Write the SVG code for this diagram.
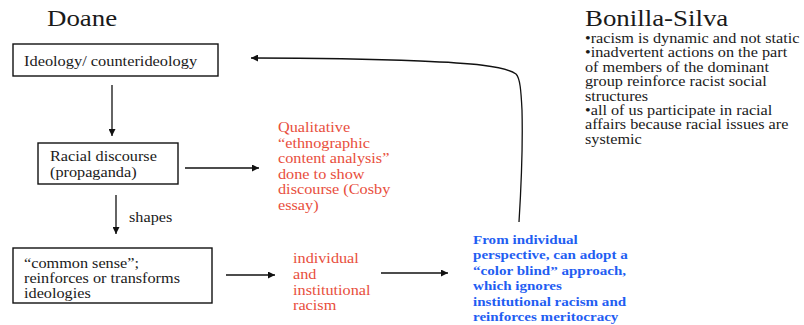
<svg xmlns="http://www.w3.org/2000/svg" width="804" height="325" viewBox="0 0 804 325">
<defs>
<marker id="ah" viewBox="0 0 10 10" refX="10" refY="5" markerWidth="7" markerHeight="7" markerUnits="userSpaceOnUse" orient="auto"><path d="M0,0 L10,5 L0,10 z" fill="#111"/></marker>
<style>
text{font-family:"Liberation Serif","Times New Roman",serif;}
.t{font-size:24px;fill:#1a1a1a;}
.b{font-size:14px;fill:#1a1a1a;}
.r{font-size:14px;fill:#e84e3c;}
.bl{font-size:13px;fill:#1f5ef2;font-weight:bold;}
.box{fill:#fff;stroke:#111;stroke-width:1.4;}
.c{fill:none;stroke:#111;stroke-width:1.3;marker-end:url(#ah);}
</style>
</defs>
<rect width="804" height="325" fill="#fff"/>
<g id="title-doane"><text class="t" transform="translate(47,26) scale(1.12,1)">Doane</text></g>
<g id="bonilla-silva">
<text class="t" transform="translate(585,26) scale(1.12,1)">Bonilla-Silva</text>
<text class="b" transform="translate(585,0) scale(1.16,1)">
<tspan x="0" y="43">•racism is dynamic and not static</tspan>
<tspan x="0" y="57.4">•inadvertent actions on the part</tspan>
<tspan x="0" y="71.8">of members of the dominant</tspan>
<tspan x="0" y="86.2">group reinforce racist social</tspan>
<tspan x="0" y="100.6">structures</tspan>
<tspan x="0" y="115">•all of us participate in racial</tspan>
<tspan x="0" y="129.4">affairs because racial issues are</tspan>
<tspan x="0" y="143.8">systemic</tspan>
</text>
</g>
<g id="ideology">
<rect class="box" x="13" y="44" width="205" height="32"/>
<text class="b" transform="translate(24,66) scale(1.17,1)">Ideology/ counterideology</text>
</g>
<g id="racial-discourse">
<rect class="box" x="38" y="143" width="140" height="41"/>
<text class="b" transform="translate(50,0) scale(1.16,1)"><tspan x="0" y="161">Racial discourse</tspan><tspan x="0" y="177">(propaganda)</tspan></text>
</g>
<g id="common-sense">
<rect class="box" x="13" y="248" width="199" height="55"/>
<text class="b" transform="translate(24,0) scale(1.16,1)"><tspan x="0" y="268">“common sense”;</tspan><tspan x="0" y="283">reinforces or transforms</tspan><tspan x="0" y="298">ideologies</tspan></text>
</g>
<g id="qualitative">
<text class="r" transform="translate(278,0) scale(1.16,1)">
<tspan x="0" y="132">Qualitative</tspan>
<tspan x="0" y="147.6">“ethnographic</tspan>
<tspan x="0" y="163.2">content analysis”</tspan>
<tspan x="0" y="178.8">done to show</tspan>
<tspan x="0" y="194.4">discourse (Cosby</tspan>
<tspan x="0" y="210">essay)</tspan>
</text>
</g>
<g id="individual-institutional">
<text class="r" transform="translate(293,0) scale(1.16,1)">
<tspan x="0" y="263">individual</tspan>
<tspan x="0" y="279">and</tspan>
<tspan x="0" y="295">institutional</tspan>
<tspan x="0" y="310.5">racism</tspan>
</text>
</g>
<g id="color-blind">
<text class="bl" transform="translate(473,0) scale(1.16,1)">
<tspan x="0" y="244">From individual</tspan>
<tspan x="0" y="259.5">perspective, can adopt a</tspan>
<tspan x="0" y="275">“color blind” approach,</tspan>
<tspan x="0" y="290.5">which ignores</tspan>
<tspan x="0" y="306">institutional racism and</tspan>
<tspan x="0" y="321.5">reinforces meritocracy</tspan>
</text>
</g>
<g id="connectors">
<line class="c" x1="112" y1="85" x2="112" y2="136"/>
<line class="c" x1="185" y1="168" x2="259" y2="168"/>
<line class="c" x1="116" y1="195" x2="116" y2="234"/>
<text class="b" transform="translate(129,222) scale(1.16,1)">shapes</text>
<line class="c" x1="226" y1="275" x2="275" y2="275"/>
<line class="c" x1="381" y1="273" x2="448" y2="273"/>
<path class="c" d="M519,222 C521,190 523,150 522,110 C521,90 520,78 516,74 C505,66 470,63 420,61 C370,59 300,58 251,58"/>
</g>
</svg>
